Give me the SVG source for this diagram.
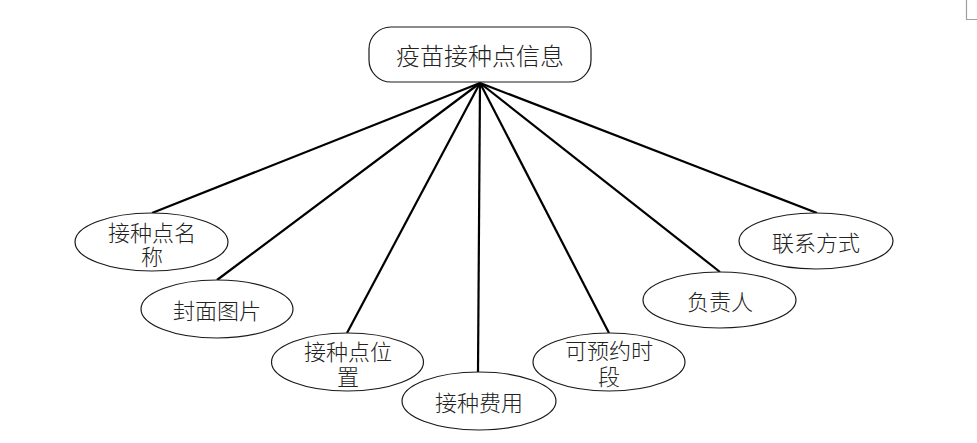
<svg xmlns="http://www.w3.org/2000/svg" width="977" height="443" viewBox="0 0 977 443">
<style>
.node{fill:#ffffff;stroke:#1a1a1a;stroke-width:1.2}
.t{font-family:"Noto Sans CJK SC","Noto Sans CJK JP",sans-serif;font-size:22px;font-weight:300;fill:#222;text-anchor:middle;dominant-baseline:central}
.tt{font-size:24px}
.edge{stroke:#000;stroke-width:2.2;fill:none}
</style>
<rect width="977" height="443" fill="#ffffff"/>
<path d="M966.5 0 V19.5 H977" fill="none" stroke="#a0a0a0" stroke-width="1.2"/>
<g id="connectors">
<line class="edge" x1="480" y1="83" x2="152" y2="213"/>
<line class="edge" x1="480" y1="83" x2="217" y2="280"/>
<line class="edge" x1="480" y1="83" x2="347" y2="333"/>
<line class="edge" x1="480" y1="83" x2="478" y2="372"/>
<line class="edge" x1="480" y1="83" x2="609" y2="333"/>
<line class="edge" x1="480" y1="83" x2="720" y2="272"/>
<line class="edge" x1="480" y1="83" x2="817" y2="213"/>
</g>
<g id="root">
<rect class="node" x="369" y="27" width="222" height="55" rx="22"/>
<text class="t tt" x="480" y="54">疫苗接种点信息</text>
</g>
<g id="n1">
<ellipse class="node" cx="151.5" cy="242" rx="76.5" ry="29"/>
<text class="t" x="152" y="231">接种点名<tspan x="152" dy="24">称</tspan></text>
</g>
<g id="n2">
<ellipse class="node" cx="217" cy="309" rx="76" ry="29"/>
<text class="t" x="217" y="309">封面图片</text>
</g>
<g id="n3">
<ellipse class="node" cx="347.5" cy="362" rx="76" ry="29"/>
<text class="t" x="348" y="350">接种点位<tspan x="348" dy="25">置</tspan></text>
</g>
<g id="n4">
<ellipse class="node" cx="479" cy="401" rx="77" ry="29"/>
<text class="t" x="479" y="401">接种费用</text>
</g>
<g id="n5">
<ellipse class="node" cx="609" cy="362" rx="76" ry="29"/>
<text class="t" x="609" y="349">可预约时<tspan x="609" dy="26">段</tspan></text>
</g>
<g id="n6">
<ellipse class="node" cx="719.5" cy="300" rx="76.5" ry="28"/>
<text class="t" x="720" y="300">负责人</text>
</g>
<g id="n7">
<ellipse class="node" cx="816" cy="241" rx="77" ry="28"/>
<text class="t" x="816" y="241">联系方式</text>
</g>
</svg>
